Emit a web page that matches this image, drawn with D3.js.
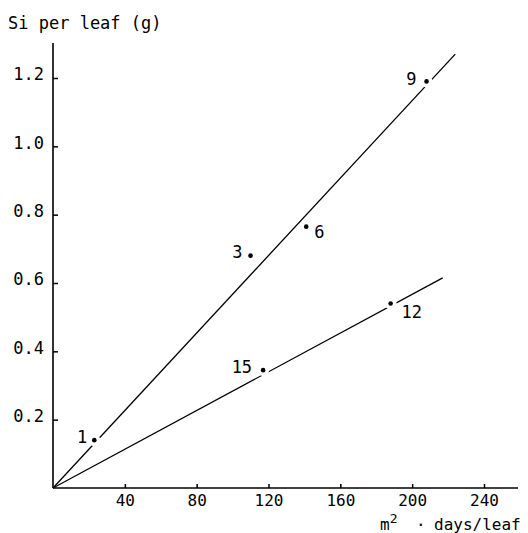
<!DOCTYPE html>
<html>
<head>
<meta charset="utf-8">
<script src="https://cdn.jsdelivr.net/npm/d3@7"></script>
<style>
  html, body { margin: 0; padding: 0; background: #fff; }
  svg { display: block; }
  text { font-family: "DejaVu Sans Mono", monospace; fill: #000; }
</style>
</head>
<body>
<svg id="chart" width="528" height="533"></svg>
<script>
// ---- data ----
const pointLabels = ["1", "3", "6", "9", "12", "15"];
const pointX = [23, 110, 141, 208, 188, 117];
const pointY = [0.14, 0.68, 0.765, 1.19, 0.54, 0.345];
const lineUpperX = [0, 224];
const lineUpperY = [0, 1.27];
const lineLowerX = [0, 217];
const lineLowerY = [0, 0.615];
const xTicks = [40, 80, 120, 160, 200, 240];
const yTicks = [0.2, 0.4, 0.6, 0.8, 1.0, 1.2];
const yTitle = "Si per leaf (g)";

// ---- layout ----
const labelOffsets = [[-7, 3, "end"], [-8, 2, "end"], [8, 11, "start"], [-10, 4, "end"], [11, 14, "start"], [-11, 3, "end"]];

const svg = d3.select("#chart");
const x = d3.scaleLinear().domain([0, 240]).range([53, 484]);
const y = d3.scaleLinear().domain([0, 1.2]).range([488, 78]);

// axes
const gx = svg.append("g").attr("transform", `translate(0,${y(0)})`)
  .call(d3.axisBottom(x).tickValues(xTicks).tickSize(-4).tickPadding(7).tickFormat(d3.format("d")));
gx.select(".domain").remove();
gx.selectAll("line").attr("stroke", "#000").attr("stroke-width", 1.5);
gx.selectAll("text").style("font-size", "16px").attr("dy", "0.71em");

const gy = svg.append("g").attr("transform", `translate(${x(0)},0)`)
  .call(d3.axisLeft(y).tickValues(yTicks).tickSize(-5).tickPadding(9).tickFormat(d3.format(".1f")));
gy.select(".domain").remove();
gy.selectAll("line").attr("stroke", "#000").attr("stroke-width", 1.5);
gy.selectAll("text").style("font-size", "17px").attr("dy", "0.1em");

svg.append("line").attr("x1", x(0)).attr("x2", 518).attr("y1", y(0)).attr("y2", y(0))
  .attr("stroke", "#000").attr("stroke-width", 1.6);
svg.append("line").attr("x1", x(0)).attr("x2", x(0)).attr("y1", y(0)).attr("y2", 43)
  .attr("stroke", "#000").attr("stroke-width", 1.6);

// titles
svg.append("text").attr("x", 8).attr("y", 29).style("font-size", "17px").text(yTitle);
const xt = svg.append("text").attr("y", 530).style("font-size", "16px");
xt.append("tspan").attr("x", 380).text("m");
xt.append("tspan").attr("dy", -7).style("font-size", "13px").text("2");
xt.append("tspan").attr("x", 416).attr("dy", 7).text("·");
xt.append("tspan").attr("x", 434).text("days/leaf");

// fitted lines
const line = d3.line().x(d => x(d[0])).y(d => y(d[1]));
[[lineUpperX, lineUpperY], [lineLowerX, lineLowerY]].forEach(([lx, ly]) => {
  svg.append("path").datum(lx.map((v, i) => [v, ly[i]]))
    .attr("d", line).attr("fill", "none").attr("stroke", "#000").attr("stroke-width", 1.3);
});

// gaps around points
const pts = pointX.map((v, i) => ({ x: v, y: pointY[i], label: pointLabels[i], off: labelOffsets[i] }));
svg.selectAll("circle.halo").data(pts).enter().append("circle")
  .attr("class", "halo").attr("cx", d => x(d.x)).attr("cy", d => y(d.y)).attr("r", 6).attr("fill", "#fff");
svg.selectAll("circle.dot").data(pts).enter().append("circle")
  .attr("class", "dot").attr("cx", d => x(d.x)).attr("cy", d => y(d.y)).attr("r", 2.3).attr("fill", "#000");
svg.selectAll("text.plabel").data(pts).enter().append("text")
  .attr("class", "plabel")
  .attr("x", d => x(d.x) + d.off[0]).attr("y", d => y(d.y) + d.off[1])
  .attr("text-anchor", d => d.off[2]).style("font-size", "17px").text(d => d.label);
</script>
</body>
</html>
